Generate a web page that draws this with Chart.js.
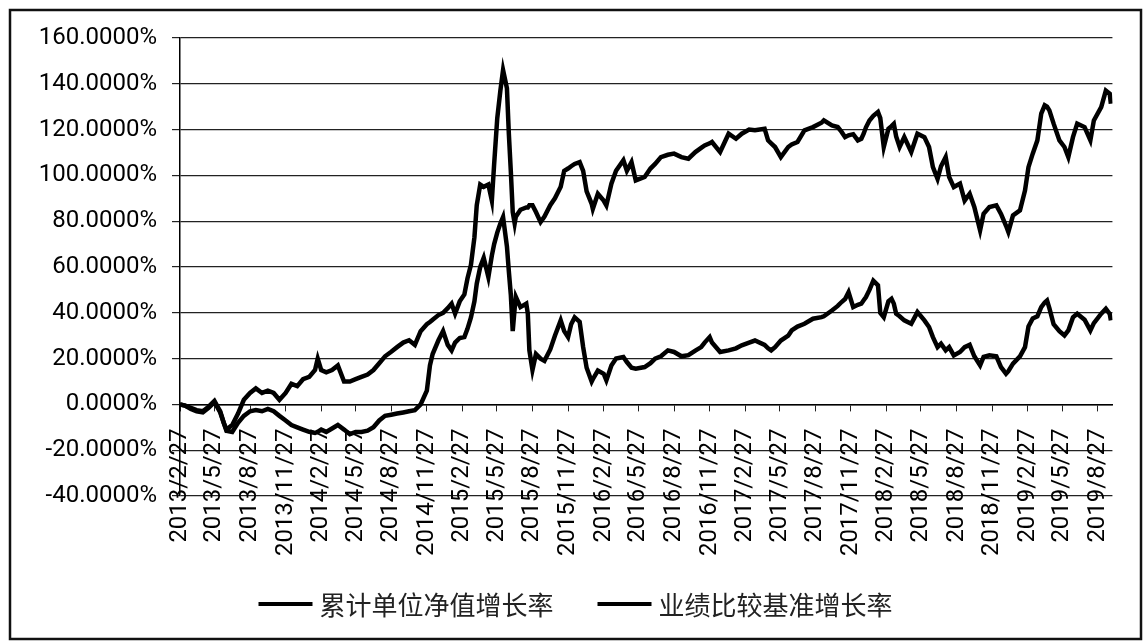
<!DOCTYPE html>
<html lang="zh-CN">
<head>
<meta charset="utf-8">
<title>累计单位净值增长率与业绩比较基准增长率</title>
<script src="https://cdn.jsdelivr.net/npm/chart.js@4.4.1/dist/chart.umd.min.js"></script>
<style>
  html, body { margin: 0; padding: 0; background: #fff; }
  #wrap { width: 1144px; height: 642px; }
</style>
</head>
<body>
<div id="wrap"><canvas id="growthChart" width="1144" height="642"></canvas></div>
<script>
"use strict";

// dates (roughly two per month, more around sharp moves)
const dates = [
  "2013/2/27", "2013/3/12", "2013/3/27", "2013/4/11", "2013/4/27", "2013/5/12", "2013/5/27", "2013/6/11",
  "2013/6/20", "2013/6/27", "2013/7/12", "2013/7/27", "2013/8/11", "2013/8/27", "2013/9/11", "2013/9/27",
  "2013/10/12", "2013/10/27", "2013/11/11", "2013/11/27", "2013/12/12", "2013/12/27", "2014/1/11", "2014/1/27",
  "2014/2/11", "2014/2/18", "2014/2/27", "2014/3/12", "2014/3/27", "2014/4/11", "2014/4/27", "2014/5/12",
  "2014/5/27", "2014/6/11", "2014/6/27", "2014/7/12", "2014/7/27", "2014/8/11", "2014/8/27", "2014/9/11",
  "2014/9/27", "2014/10/12", "2014/10/27", "2014/11/11", "2014/11/27", "2014/12/5", "2014/12/12", "2014/12/27",
  "2015/1/8", "2015/1/20", "2015/1/30", "2015/2/8", "2015/2/20", "2015/3/4", "2015/3/12", "2015/3/21",
  "2015/3/30", "2015/4/5", "2015/4/14", "2015/4/23", "2015/5/5", "2015/5/14", "2015/5/20", "2015/5/28",
  "2015/6/5", "2015/6/12", "2015/6/22", "2015/6/27", "2015/7/2", "2015/7/7", "2015/7/12", "2015/7/15",
  "2015/7/27", "2015/8/11", "2015/8/15", "2015/8/19", "2015/8/27", "2015/9/5", "2015/9/17", "2015/9/27",
  "2015/10/12", "2015/10/24", "2015/11/8", "2015/11/17", "2015/11/27", "2015/12/5", "2015/12/14", "2015/12/27",
  "2016/1/5", "2016/1/14", "2016/1/27", "2016/1/30", "2016/2/12", "2016/2/27", "2016/3/5", "2016/3/18",
  "2016/3/30", "2016/4/18", "2016/4/27", "2016/5/9", "2016/5/20", "2016/6/12", "2016/6/27", "2016/7/9",
  "2016/7/24", "2016/8/11", "2016/8/27", "2016/9/15", "2016/10/3", "2016/10/21", "2016/11/5", "2016/11/14",
  "2016/11/27", "2016/12/3", "2016/12/24", "2017/1/15", "2017/2/3", "2017/2/18", "2017/3/9", "2017/3/24",
  "2017/4/18", "2017/4/27", "2017/5/5", "2017/5/15", "2017/5/30", "2017/6/18", "2017/6/27", "2017/7/12",
  "2017/7/30", "2017/8/21", "2017/9/12", "2017/9/18", "2017/10/9", "2017/10/24", "2017/11/3", "2017/11/12",
  "2017/11/21", "2017/12/3", "2017/12/15", "2017/12/24", "2017/12/30", "2018/1/5", "2018/1/14", "2018/1/24",
  "2018/2/5", "2018/2/11", "2018/2/20", "2018/3/4", "2018/3/12", "2018/3/18", "2018/3/24", "2018/4/2",
  "2018/4/14", "2018/5/2", "2018/5/18", "2018/6/5", "2018/6/17", "2018/6/27", "2018/7/9", "2018/7/18",
  "2018/7/30", "2018/8/8", "2018/8/20", "2018/9/5", "2018/9/17", "2018/9/30", "2018/10/12", "2018/10/27",
  "2018/11/5", "2018/11/20", "2018/12/8", "2018/12/20", "2019/1/2", "2019/1/8", "2019/1/20", "2019/2/7",
  "2019/2/20", "2019/3/1", "2019/3/12", "2019/3/24", "2019/4/3", "2019/4/12", "2019/4/18", "2019/4/24",
  "2019/5/5", "2019/5/20", "2019/6/2", "2019/6/12", "2019/6/24", "2019/7/5", "2019/7/24", "2019/8/8",
  "2019/8/17", "2019/9/5", "2019/9/17", "2019/9/27", "2019/9/30"
];

// 累计单位净值增长率 (%)
const fundGrowth = [
  0, -0.5, -1.5, -2.5, -3, -1, 1.5, -3,
  -8, -11, -9, -4, 2, 5, 7, 5,
  6, 5, 2, 5, 9, 8, 11, 12,
  15, 20, 15, 14, 15, 17, 10, 10,
  11, 12, 13, 15, 18, 21, 23, 25,
  27, 28, 26, 32, 35, 36, 37, 39,
  40, 42, 44, 39.6, 45, 48, 55, 61,
  73, 87, 96, 95, 96, 89, 105, 125,
  137, 146, 138, 118, 102, 84, 79, 82,
  85, 86, 86, 87, 87, 84, 79.6, 82,
  87, 90, 95, 102, 103, 104, 105, 105.8,
  102, 93, 87.6, 85.4, 92, 89, 86.9, 96.4,
  102, 106.6, 102, 105.8, 97.8, 99.3, 103, 105,
  108, 109, 109.5, 108, 107.3, 110.2, 112, 113.1,
  114, 114.6, 110.2, 118.2, 116, 118.2, 120, 119.7,
  120.4, 115.3, 114, 112.4, 108, 112.4, 113.5, 114.6,
  119.7, 121.1, 123, 124, 121.8, 121.1, 119, 116.7,
  117.5, 118, 115.3, 116, 118.2, 121, 124, 126,
  127.7, 125, 112.4, 120.4, 121.5, 122.5, 117, 112.4,
  116.7, 110.2, 118.2, 116.7, 112.4, 103.6, 98.5, 104,
  108, 99.3, 94.9, 96.4, 89, 92, 86.2, 76,
  83.2, 86.2, 86.9, 83.2, 78, 75.3, 82.5, 84.7,
  93.4, 103.6, 109.5, 115.3, 127, 130.6, 130, 128.4,
  122.6, 115.3, 112.4, 108, 116.7, 122.6, 121.1, 115.3,
  124, 129.8, 137, 135.7, 131.3
];

// 业绩比较基准增长率 (%)
const benchmarkGrowth = [
  0, -0.5, -2, -3, -3.5, -1.5, 1, -3.5,
  -8, -11.5, -12, -8, -5, -3, -2.5, -3,
  -2, -3, -5, -7, -9, -10, -11, -12,
  -12.5, -12, -11, -12, -10.5, -9, -11, -13,
  -12, -12, -11.5, -10, -7, -5, -4.5, -4,
  -3.5, -3, -2.5, 0, 6, 17, 22, 28,
  32, 26, 23.6, 27, 29, 29.4, 33, 38,
  45, 52.7, 60, 64, 55.6, 65, 70, 75,
  79, 81.8, 69, 58, 48, 32, 42, 47,
  42.5, 44, 39.6, 23.6, 15, 22, 20, 19,
  24, 30, 36.7, 32, 29.4, 35, 38, 36,
  25, 16, 10, 11, 14.8, 13.4, 10.5, 17,
  20, 20.7, 18.5, 16, 15.6, 16.3, 18, 20,
  21, 23.6, 22.9, 21, 21.5, 23.5, 25, 27,
  29.4, 27, 22.9, 23.6, 24.5, 25.8, 27, 27.9,
  26, 24.5, 23.6, 25, 27.9, 30, 32.3, 34,
  35.2, 37.4, 38.1, 38.5, 41, 43, 44.7, 46,
  49, 42.5, 43.5, 44, 45.5, 46.9, 50, 54,
  52, 40, 38.1, 45, 46.1, 44, 39.6, 38.5,
  36.7, 35.2, 40.3, 36.7, 33.8, 29.4, 25, 26.5,
  23.6, 25, 21.4, 22.9, 25, 26, 21, 17,
  20.7, 21.4, 21, 16.3, 13.4, 14.5, 17.8, 21,
  25, 34, 37.5, 38.5, 42.5, 44.5, 45.4, 42,
  35, 32, 30.1, 32.3, 38, 39.6, 37, 32.3,
  35.5, 39.6, 41.8, 39.5, 36.7
];

const seriesNames = ["累计单位净值增长率", "业绩比较基准增长率"];

// quarterly category labels on the date axis
const tickDates = [
  "2013/2/27", "2013/5/27", "2013/8/27", "2013/11/27", "2014/2/27", "2014/5/27", "2014/8/27",
  "2014/11/27", "2015/2/27", "2015/5/27", "2015/8/27", "2015/11/27", "2016/2/27", "2016/5/27",
  "2016/8/27", "2016/11/27", "2017/2/27", "2017/5/27", "2017/8/27", "2017/11/27", "2018/2/27",
  "2018/5/27", "2018/8/27", "2018/11/27", "2019/2/27", "2019/5/27", "2019/8/27"
];

const axisStart = "2013/2/27";
const axisEnd = "2019/10/4";

function dayIndex(str) {
  const [y, m, d] = str.split("/").map(Number);
  const [y0, m0, d0] = axisStart.split("/").map(Number);
  return Math.round((Date.UTC(y, m - 1, d) - Date.UTC(y0, m0 - 1, d0)) / 86400000);
}

const labelByDay = {};
tickDates.forEach((d) => { labelByDay[dayIndex(d)] = d; });

const axisFont = { family: "Roboto", size: 24 };

// the date axis crosses the value axis at 0%, its labels hang into the plot
const crossAtZero = {
  id: "crossAtZero",
  afterLayout(chart) {
    const x = chart.scales.x;
    const zero = chart.scales.y.getPixelForValue(0);
    x.top = zero;
    x.bottom = zero + 170;
  },
};

// outer border like the pasted excel picture
const framePlugin = {
  id: "frame",
  afterDraw(chart) {
    const ctx = chart.ctx;
    ctx.save();
    ctx.strokeStyle = "#111";
    ctx.lineWidth = 2.5;
    ctx.strokeRect(10, 10, 1131, 629);
    ctx.restore();
  },
};

// legend under the axis labels, centred in the frame
const bottomLegend = {
  id: "bottomLegend",
  afterDraw(chart) {
    const ctx = chart.ctx;
    const lineLen = 54;
    const gap = 7;
    const itemGap = 44;
    const y = 604;
    ctx.save();
    ctx.font = '26px "Noto Sans CJK SC"';
    ctx.textBaseline = "middle";
    const items = chart.data.datasets.map((ds) => ({
      label: ds.label,
      color: ds.borderColor,
      w: ctx.measureText(ds.label).width,
    }));
    const total =
      items.reduce((s, it) => s + lineLen + gap + it.w, 0) + itemGap * (items.length - 1);
    let x = (10 + 1141) / 2 - total / 2;
    items.forEach((it) => {
      ctx.strokeStyle = it.color;
      ctx.lineWidth = 4;
      ctx.beginPath();
      ctx.moveTo(x, y);
      ctx.lineTo(x + lineLen, y);
      ctx.stroke();
      ctx.fillStyle = "#222";
      ctx.fillText(it.label, x + lineLen + gap, y + 1);
      x += lineLen + gap + it.w + itemGap;
    });
    ctx.restore();
  },
};

new Chart(document.getElementById("growthChart"), {
  type: "line",
  data: {
    datasets: [
      {
        label: seriesNames[0],
        data: dates.map((d, i) => ({ x: dayIndex(d), y: fundGrowth[i] })),
        borderColor: "#000",
        borderWidth: 4.5,
        pointRadius: 0,
        tension: 0,
      },
      {
        label: seriesNames[1],
        data: dates.map((d, i) => ({ x: dayIndex(d), y: benchmarkGrowth[i] })),
        borderColor: "#000",
        borderWidth: 4.5,
        pointRadius: 0,
        tension: 0,
      },
    ],
  },
  options: {
    responsive: false,
    animation: false,
    devicePixelRatio: 1,
    layout: { padding: { left: 0, right: 30, top: 38, bottom: 146 } },
    plugins: {
      legend: { display: false },
      tooltip: { enabled: false },
    },
    scales: {
      x: {
        type: "linear",
        position: "bottom",
        min: 0,
        max: dayIndex(axisEnd),
        afterBuildTicks: (scale) => {
          scale.ticks = tickDates.map((d) => ({ value: dayIndex(d) }));
        },
        afterFit: (scale) => {
          scale.height = 0;
        },
        ticks: {
          autoSkip: false,
          minRotation: 90,
          maxRotation: 90,
          padding: 17,
          color: "#000",
          font: axisFont,
          callback: (value) => labelByDay[value] || "",
        },
        grid: { drawOnChartArea: false, drawTicks: true, tickLength: 7, color: "#222" },
        border: { display: true, color: "#000", width: 1.5 },
      },
      y: {
        min: -40,
        max: 160,
        ticks: {
          stepSize: 20,
          padding: 15,
          color: "#000",
          font: axisFont,
          callback: (value) => value.toFixed(4) + "%",
        },
        grid: { color: "#222", lineWidth: 1.2, tickLength: 8 },
        border: { display: true, color: "#000", width: 1.5 },
        afterFit: (scale) => {
          scale.width = 180;
        },
      },
    },
  },
  plugins: [crossAtZero, framePlugin, bottomLegend],
});
</script>
</body>
</html>
